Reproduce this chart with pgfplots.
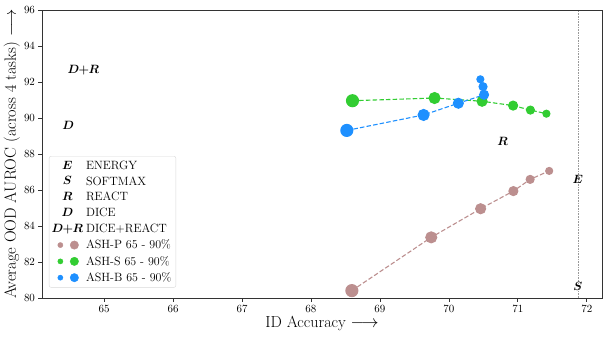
\documentclass[border=0pt]{standalone}
\usepackage{amsmath,amssymb,bm}
\usepackage{pgfplots}
\pgfplotsset{compat=1.18}

\definecolor{ashp}{RGB}{188,143,143}
\definecolor{ashs}{RGB}{50,205,50}
\definecolor{ashb}{RGB}{30,144,255}

% legend images all 28pt wide so that the text column lines up
\pgfplotsset{
  twodots/.style={
    legend image code/.code={
      \node[anchor=center, inner sep=0pt, minimum width=28pt, minimum height=9pt] at (14pt,0) {};
      \fill[#1] (7pt,0) circle (2.6pt);
      \fill[#1] (21pt,0) circle (4.2pt);
    }
  },
  ashline/.style={
    color=#1, line width=1.1pt, dash pattern=on 4.5pt off 2.2pt,
    mark=*, mark options={solid, fill=#1, draw=#1},
    scatter, scatter/use mapped color={draw=#1, fill=#1},
    visualization depends on={\thisrow{r} \as \rr},
    scatter/@pre marker code/.append style={/tikz/mark size=\rr},
    forget plot
  },
  txt/.style={only marks, mark=text,
    text mark={\fontsize{12}{13}\selectfont #1},
    legend image code/.code={
      \node[anchor=center, inner sep=0pt, minimum width=28pt, minimum height=9pt] at (14pt,0)
        {\fontsize{12}{13}\selectfont #1};
    }}
}
\newcommand{\DR}{$\bm{D}\mkern-5mu\bm{+}\mkern-5mu\bm{R}$}

\begin{document}
\begin{tikzpicture}
\useasboundingbox (-42pt,-40pt) rectangle (567pt,298pt);
\begin{axis}[
    scale only axis,
    width=560pt, height=288pt,
    xmin=64.10, xmax=72.22,
    ymin=80, ymax=96,
    xtick={65,66,67,68,69,70,71,72},
    ytick={80,82,84,86,88,90,92,94,96},
    tick align=outside,
    tick pos=left,
    major tick length=3.5pt,
    axis line style={black!80, line width=0.8pt},
    tick style={black!80, line width=0.8pt},
    tick label style={font=\fontsize{10.5}{12}\selectfont},
    xlabel={ID Accuracy $\longrightarrow$},
    ylabel={Average OOD AUROC (across 4 tasks) $\longrightarrow$},
    xlabel style={font=\fontsize{16}{18}\selectfont,
        at={(axis description cs:0.5,-0.087)}, anchor=center},
    ylabel style={font=\fontsize{16.3}{18}\selectfont,
        at={(axis description cs:-0.054,0.5)}, anchor=center},
    legend style={
        at={(axis description cs:0.0125,0.493)}, anchor=north west,
        draw=black!15, rounded corners=2pt, fill=white,
        font=\fontsize{12}{14}\selectfont,
        row sep=1.8pt, inner sep=2.5pt,
        /tikz/every odd column/.append style={column sep=1pt}
    },
    legend cell align=left,
]

% reference line at the ENERGY / SOFTMAX accuracy
\addplot[black!40, densely dotted, line width=0.6pt, forget plot]
    coordinates {(71.87,80) (71.87,96)};

\addplot[txt={$\bm{E}$}] coordinates {(71.87,86.59)};
\addlegendentry{ENERGY}
\addplot[txt={$\bm{S}$}] coordinates {(71.87,80.67)};
\addlegendentry{SOFTMAX}
\addplot[txt={$\bm{R}$}] coordinates {(70.78,88.72)};
\addlegendentry{REACT}
\addplot[txt={$\bm{D}$}] coordinates {(64.48,89.61)};
\addlegendentry{DICE}
\addplot[txt={\DR}] coordinates {(64.70,92.67)};
\addlegendentry{DICE+REACT}

% ASH-P
\addplot[ashline=ashp] table {
x y r
68.593 80.41 6.0
69.744 83.37 5.5
70.460 84.96 5.0
70.935 85.94 4.5
71.178 86.59 4.0
71.454 87.06 3.5
};

% ASH-S
\addplot[ashline=ashs] table {
x y r
68.602 90.96 6.0
69.792 91.11 5.5
70.481 90.93 5.0
70.931 90.69 4.5
71.182 90.44 4.0
71.414 90.24 3.5
};

% ASH-B
\addplot[ashline=ashb] table {
x y r
68.520 89.31 6.0
69.633 90.17 5.5
70.137 90.82 5.0
70.510 91.29 4.5
70.495 91.74 4.0
70.456 92.15 3.5
};

\addlegendimage{twodots=ashp}
\addlegendentry{ASH-P 65 - 90\%}
\addlegendimage{twodots=ashs}
\addlegendentry{ASH-S 65 - 90\%}
\addlegendimage{twodots=ashb}
\addlegendentry{ASH-B 65 - 90\%}

\end{axis}
\end{tikzpicture}
\end{document}
